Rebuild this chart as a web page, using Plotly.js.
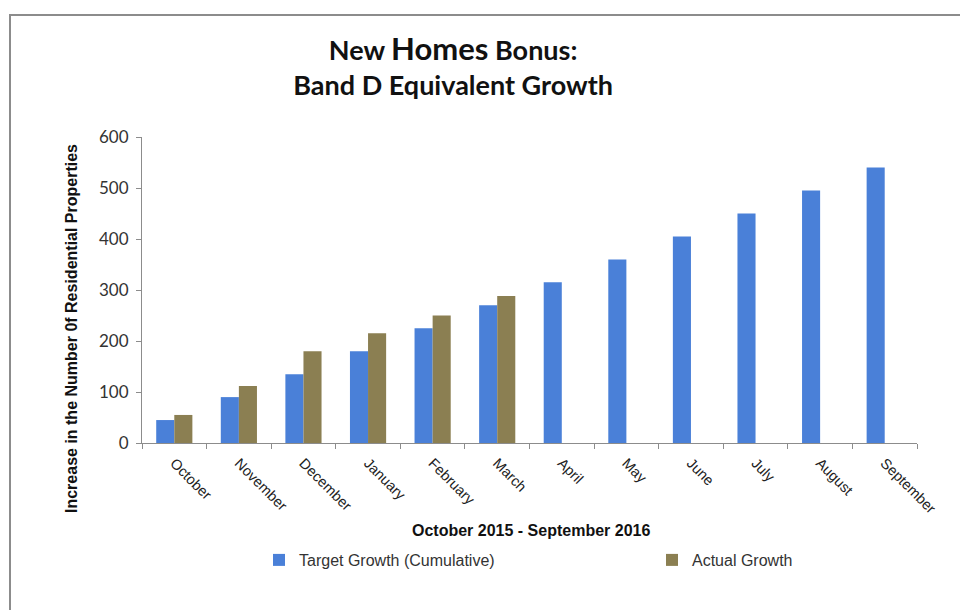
<!DOCTYPE html>
<html>
<head>
<meta charset="utf-8">
<script src="https://cdn.plot.ly/plotly-3.0.1.min.js"></script>
<style>
html,body{margin:0;padding:0;background:#fff;}
#wrap{position:relative;width:960px;height:610px;}
#chart{width:960px;height:610px;}
#frame{position:absolute;left:9px;top:14px;width:960px;height:600px;border-left:2px solid #8c8c8c;border-top:2px solid #8c8c8c;pointer-events:none;}
</style>
</head>
<body>
<div id="wrap"><div id="chart"></div><div id="frame"></div></div>
<script>
const months = ["October","November","December","January","February","March","April","May","June","July","August","September"];
const targetGrowth = [45, 90, 135, 180, 225, 270, 315, 360, 405, 450, 495, 540];
const actualMonths = ["October","November","December","January","February","March"];
const actualGrowth = [55, 112, 180, 215, 250, 288];
const yTicks = [0, 100, 200, 300, 400, 500, 600];

const traces = [
  {type:'bar', name:'Target Growth (Cumulative)', x:months, y:targetGrowth,
   marker:{color:'#4a80d8'}, hoverinfo:'skip', legend:'legend'},
  {type:'bar', name:'Actual Growth', x:actualMonths, y:actualGrowth,
   marker:{color:'#8b7f52'}, hoverinfo:'skip', legend:'legend2'}
];

const legendFont = {family:'"Liberation Sans", Arial, sans-serif', size:16, color:'#333'};

const layout = {
  width:960, height:610,
  paper_bgcolor:'#ffffff', plot_bgcolor:'#ffffff',
  margin:{l:142, r:43, t:137, b:167},
  barmode:'group', bargap:0.44, bargroupgap:0,
  title:{
    text:'New <span style="font-size:31px">Homes</span> Bonus:<br>Band D Equivalent Growth',
    font:{family:'Lato, "Open Sans", sans-serif', size:27, color:'#111', weight:'bold'},
    x:0.472, xref:'container', xanchor:'center',
    y:1-60/610, yref:'container', yanchor:'top'
  },
  xaxis:{
    type:'category', categoryorder:'array', categoryarray:months,
    tickangle:45, tickson:'boundaries', ticks:'outside', ticklen:5, tickcolor:'#8c8c8c',
    showline:true, linecolor:'#8c8c8c', linewidth:1, showgrid:false, zeroline:false,
    tickfont:{family:'"Liberation Sans", Arial, sans-serif', size:14.5, color:'#222'},
    ticklabelstandoff:5
  },
  yaxis:{
    range:[0,600], tickvals:yTicks, ticks:'outside', ticklen:5, tickcolor:'#8c8c8c',
    showline:true, linecolor:'#8c8c8c', linewidth:1, showgrid:false, zeroline:false,
    tickfont:{family:'Lato, "Open Sans", sans-serif', size:17, color:'#333'}, ticklabelstandoff:4
  },
  showlegend:true,
  legend:{
    orientation:'h', xref:'container', yref:'container',
    x:259/960, y:1-560/610, xanchor:'left', yanchor:'middle',
    font:legendFont, itemclick:false, itemdoubleclick:false, bgcolor:'rgba(0,0,0,0)'
  },
  legend2:{
    orientation:'h', xref:'container', yref:'container',
    x:652/960, y:1-560/610, xanchor:'left', yanchor:'middle',
    font:legendFont, itemclick:false, itemdoubleclick:false, bgcolor:'rgba(0,0,0,0)'
  },
  annotations:[
    {text:'Increase in the Number 0f Residential Properties', xref:'paper', yref:'paper',
     x:-71/775, y:(443-329)/306, xanchor:'center', yanchor:'middle', textangle:-90, showarrow:false,
     font:{family:'"Liberation Sans", Arial, sans-serif', size:16, color:'#111', weight:'bold'}},
    {text:'October 2015 - September 2016', xref:'paper', yref:'paper',
     x:(531-142)/775, y:-(530-443)/306, xanchor:'center', yanchor:'middle', showarrow:false,
     font:{family:'"Liberation Sans", Arial, sans-serif', size:16, color:'#111', weight:'bold'}}
  ]
};

Plotly.newPlot('chart', traces, layout, {displayModeBar:false, staticPlot:true});
</script>
</body>
</html>
